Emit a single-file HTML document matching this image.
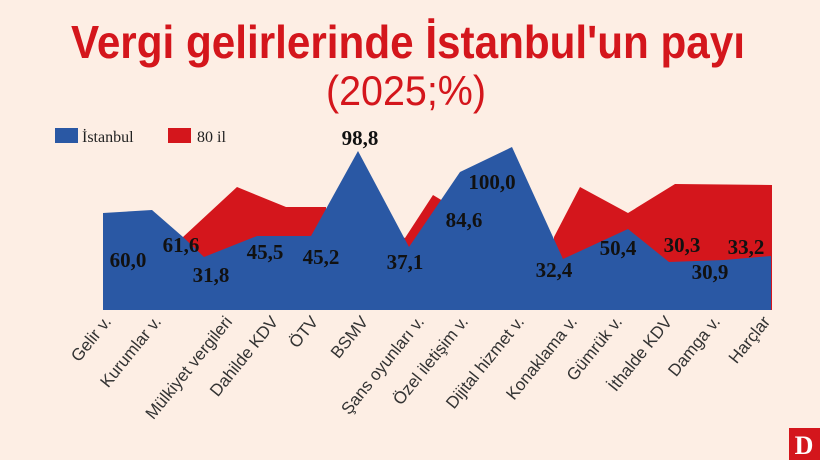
<!DOCTYPE html>
<html><head><meta charset="utf-8"><style>
html,body{margin:0;padding:0;background:#fdeee4;}
svg{display:block;}
</style></head><body>
<svg width="820" height="460" viewBox="0 0 820 460" xmlns="http://www.w3.org/2000/svg">
<rect width="820" height="460" fill="#fdeee4"/>
<text x="408" y="58" text-anchor="middle" font-family="Liberation Sans Narrow, Liberation Sans, sans-serif" font-weight="bold" font-size="46" fill="#d4161c" textLength="674" lengthAdjust="spacingAndGlyphs">Vergi gelirlerinde İstanbul'un payı</text>
<text x="406" y="105" text-anchor="middle" font-family="Liberation Sans Narrow, Liberation Sans, sans-serif" font-size="42" fill="#d4161c" textLength="160" lengthAdjust="spacingAndGlyphs">(2025;%)</text>
<rect x="55" y="128" width="23" height="15" fill="#2a58a4"/>
<text x="82" y="142" font-family="Liberation Serif, serif" font-size="16" fill="#222">İstanbul</text>
<rect x="168" y="128" width="23" height="15" fill="#d4161c"/>
<text x="197" y="142" font-family="Liberation Serif, serif" font-size="16" fill="#222">80 il</text>
<g fill="#d4161c">
<polygon points="183,237 237,187 286,207 326,207 326,310 183,310"/>
<polygon points="400,236 405,238 433,195 443,201 443,310 400,310"/>
<polygon points="554,237 580,187 628,213 675,184 772,185 772,310 554,310"/>
</g>
<polygon fill="#2a58a4" points="103,213 152,210 183,237 204,257 257,236 311,236 358,151 409,247 460,172 512,147 563,259 628,229 669,262 724,260 771,256 771,310 103,310"/>
<g font-family="Liberation Serif, serif" font-weight="bold" font-size="21" fill="#111" text-anchor="middle">
<text x="128" y="267">60,0</text>
<text x="181" y="252">61,6</text>
<text x="211" y="282">31,8</text>
<text x="265" y="259">45,5</text>
<text x="321" y="264">45,2</text>
<text x="360" y="145">98,8</text>
<text x="405" y="269">37,1</text>
<text x="464" y="227">84,6</text>
<text x="492" y="189">100,0</text>
<text x="554" y="277">32,4</text>
<text x="618" y="255">50,4</text>
<text x="682" y="252">30,3</text>
<text x="710" y="279">30,9</text>
<text x="746" y="254">33,2</text>
</g>
<g font-family="Liberation Sans, sans-serif" font-size="17" fill="#333" text-anchor="end">
<text transform="translate(112,322) rotate(-51)">Gelir v.</text>
<text transform="translate(162,322) rotate(-51)">Kurumlar  v.</text>
<text transform="translate(233,322) rotate(-51)">Mülkiyet vergileri</text>
<text transform="translate(279,322) rotate(-51)">Dahilde KDV</text>
<text transform="translate(319,322) rotate(-51)">ÖTV</text>
<text transform="translate(369,322) rotate(-51)">BSMV</text>
<text transform="translate(425,322) rotate(-51)">Şans oyunları v.</text>
<text transform="translate(469,322) rotate(-51)">Özel iletişim v.</text>
<text transform="translate(525,322) rotate(-51)">Dijital hizmet v.</text>
<text transform="translate(578,322) rotate(-51)">Konaklama v.</text>
<text transform="translate(623,322) rotate(-51)">Gümrük v.</text>
<text transform="translate(673,322) rotate(-51)">İthalde KDV</text>
<text transform="translate(721,322) rotate(-51)">Damga v.</text>
<text transform="translate(771,322) rotate(-51)">Harçlar</text>
</g>
<rect x="789" y="428" width="31" height="32" fill="#d4161c"/>
<text x="804" y="454" text-anchor="middle" font-family="Liberation Serif, serif" font-weight="bold" font-size="26" fill="#fff">D</text>
</svg>
</body></html>
